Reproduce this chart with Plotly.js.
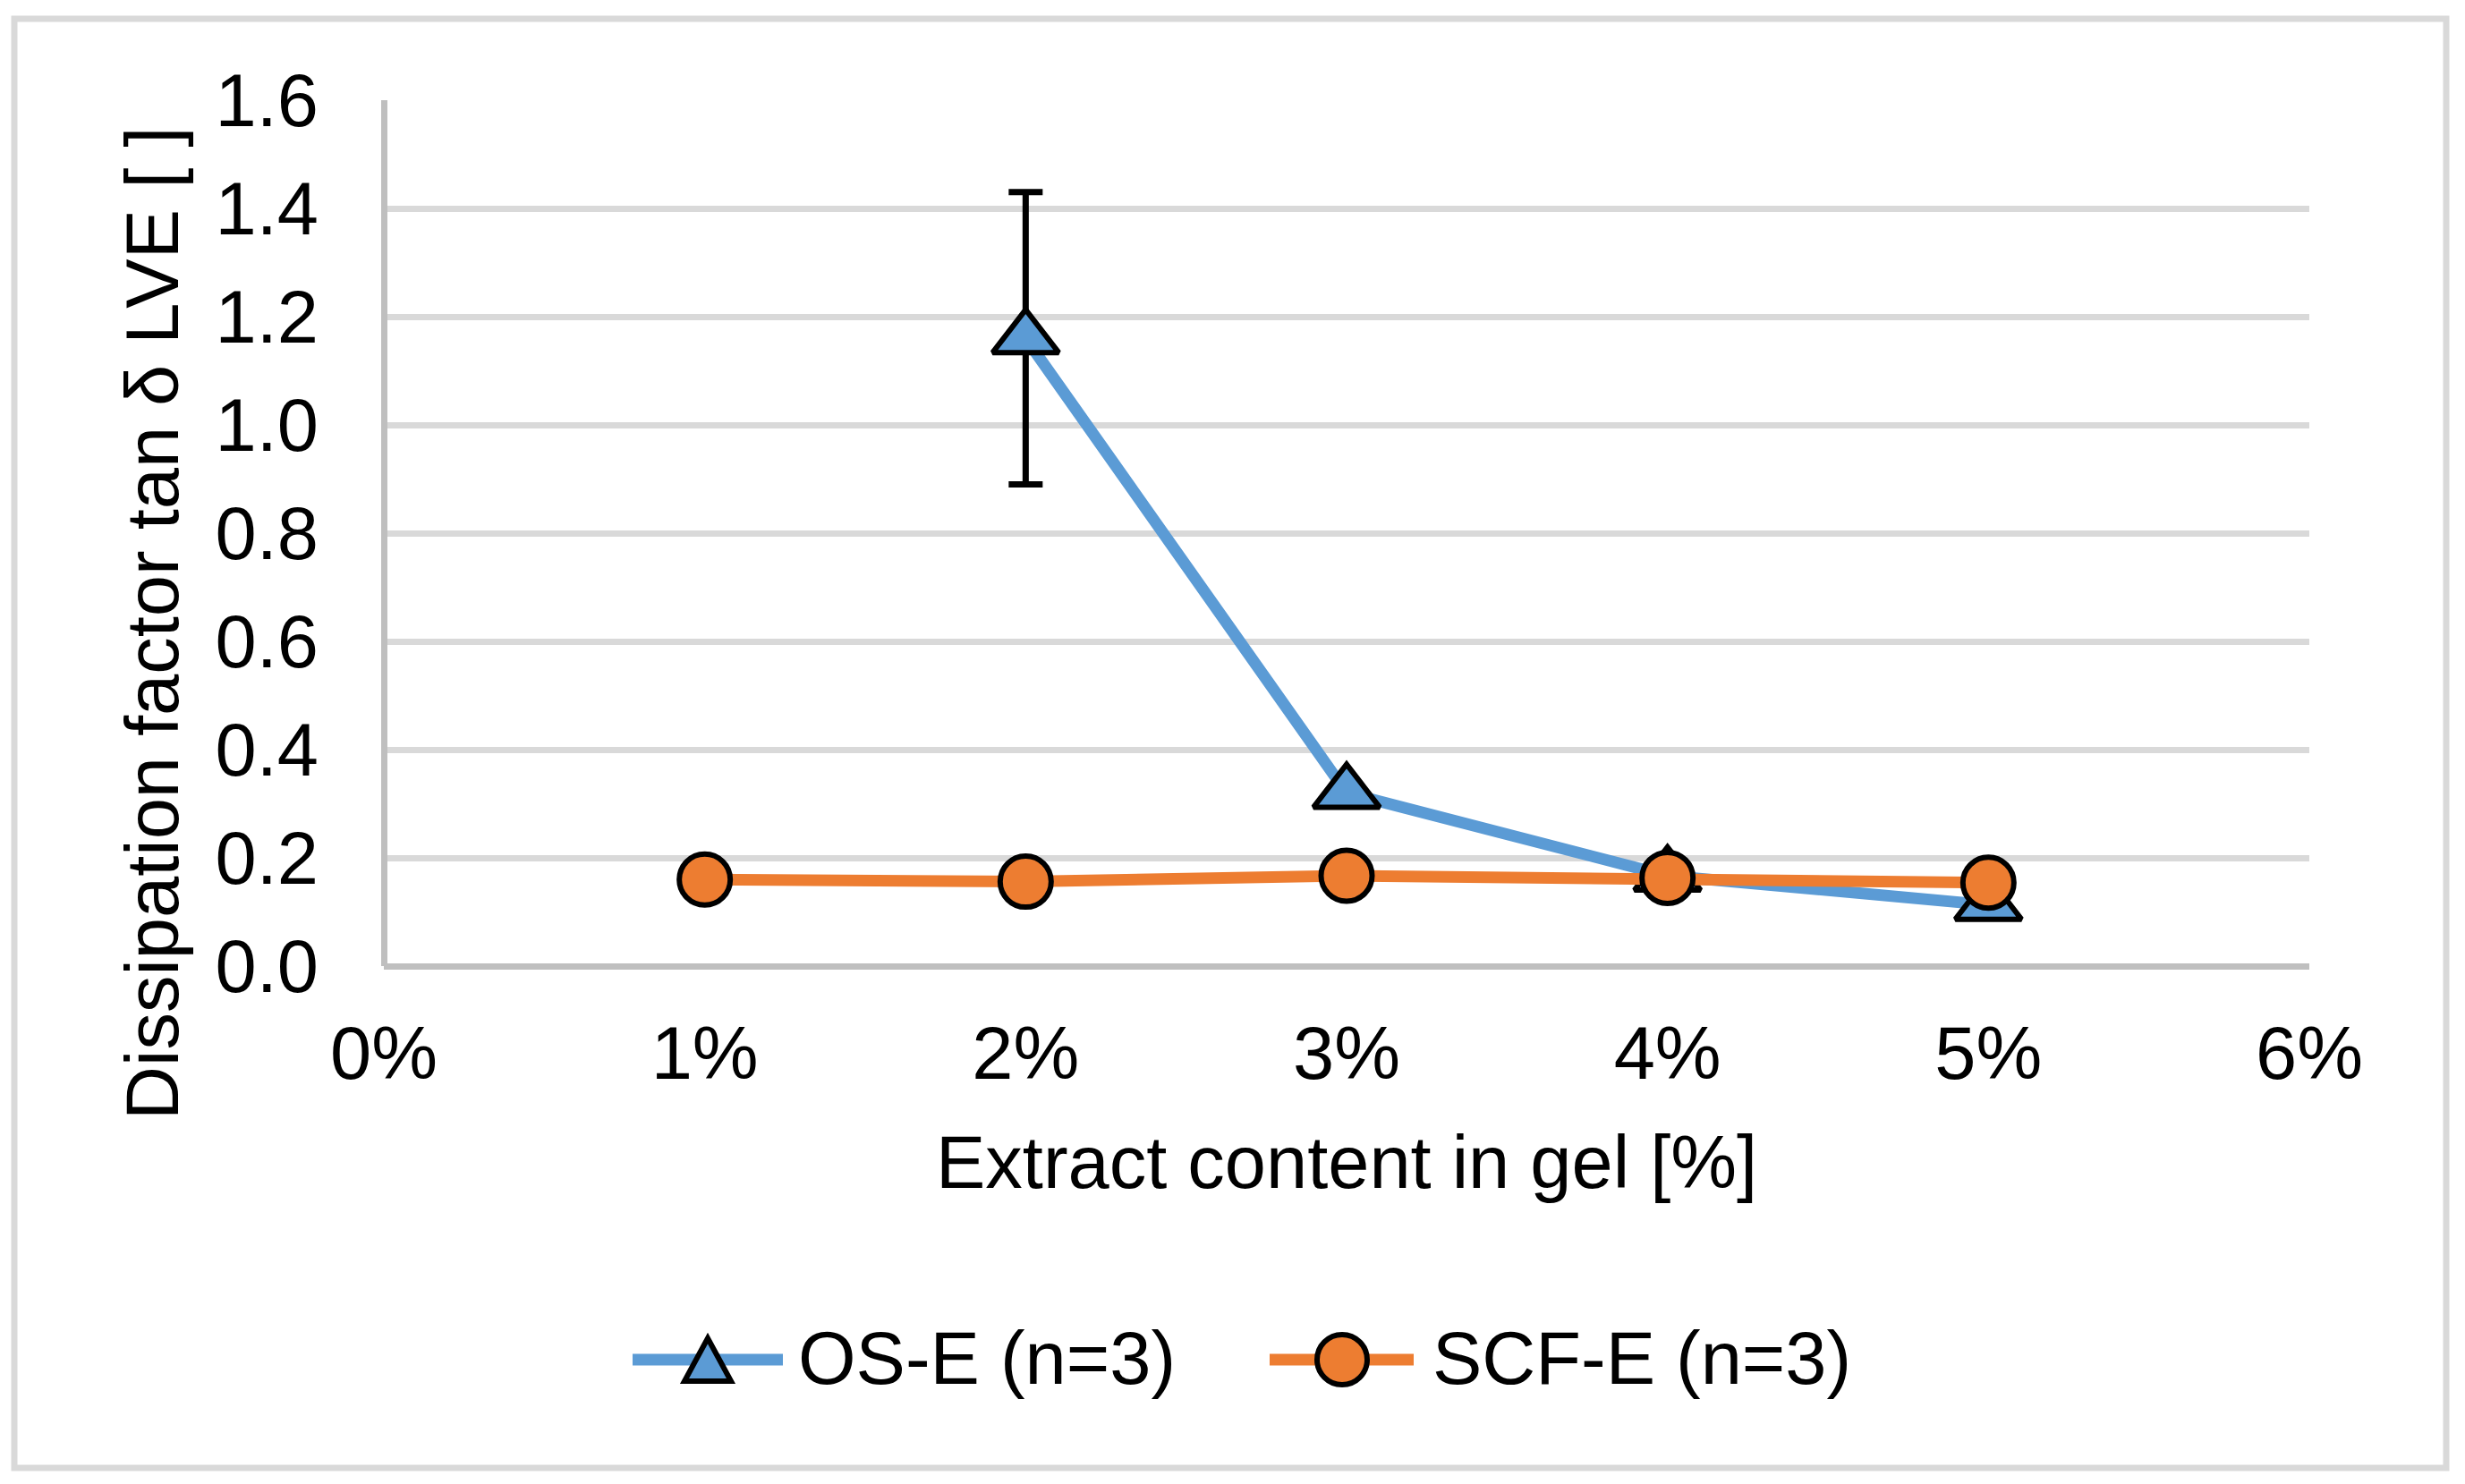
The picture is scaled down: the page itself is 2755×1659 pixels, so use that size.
<!DOCTYPE html>
<html>
<head>
<meta charset="utf-8">
<script src="https://cdn.plot.ly/plotly-3.0.1.min.js"></script>
<style>
  html, body { margin: 0; padding: 0; background: #ffffff; }
  #chart { width: 2755px; height: 1659px; }
</style>
</head>
<body>
<div id="chart"></div>
<script>
// values
const extractPct = [1, 2, 3, 4, 5];

const osPct = [2, 3, 4, 5];
const osTanDelta = [1.16, 0.32, 0.167, 0.113];
const osError = [0.27, 0, 0, 0];

const scfTanDelta = [0.160, 0.156, 0.167, 0.163, 0.154];

const seriesNames = ['OS-E (n=3)', 'SCF-E (n=3)'];
const xTitle = 'Extract content in gel [%]';
const yTitle = 'Dissipation factor tan δ LVE [ ]';

const BLUE = '#5B9BD5';
const ORANGE = '#ED7D31';
const FONT = 'Liberation Sans, Arial, sans-serif';

// plot area in page pixels
const W = 2755, H = 1659;
const L = 429, R = 2581, T = 112, B = 1080;
const px = x => (x - L) / (R - L);
const py = y => (B - y) / (B - T);

const traces = [
    {   // error bars sit under the markers, as in the original
        x: osPct,
        y: osTanDelta,
        mode: 'markers',
        marker: { size: 1, opacity: 0 },
        error_y: { type: 'data', array: osError, visible: true, color: '#000000', thickness: 7, width: 19 },
        hoverinfo: 'skip',
        cliponaxis: false
    },
    {
        x: osPct,
        y: osTanDelta,
        name: seriesNames[0],
        mode: 'lines+markers',
        line: { color: BLUE, width: 13 },
        marker: { symbol: 'triangle-up', size: 64, color: BLUE, line: { color: '#000000', width: 6 } },
        cliponaxis: false
    },
    {
        x: extractPct,
        y: scfTanDelta,
        name: seriesNames[1],
        mode: 'lines+markers',
        line: { color: ORANGE, width: 13 },
        marker: { symbol: 'circle', size: 57, color: ORANGE, line: { color: '#000000', width: 6 } },
        cliponaxis: false
    }
];

// hand-made legend (Plotly caps legend marker size)
const legendY = py(1520);
const shapes = [
    {   // outer chart border
        type: 'rect', xref: 'paper', yref: 'paper',
        x0: px(16), x1: px(2734), y0: py(1641), y1: py(21),
        line: { color: '#D9D9D9', width: 7 }, layer: 'below'
    },
    {
        type: 'line', xref: 'paper', yref: 'paper',
        x0: px(707), x1: px(875), y0: legendY, y1: legendY,
        line: { color: BLUE, width: 13 }
    },
    {
        type: 'path', xref: 'paper', yref: 'paper',
        xsizemode: 'pixel', ysizemode: 'pixel',
        xanchor: px(791), yanchor: legendY,
        path: 'M-26,-24 L26,-24 L0,24 Z',
        fillcolor: BLUE, line: { color: '#000000', width: 6 }
    },
    {
        type: 'line', xref: 'paper', yref: 'paper',
        x0: px(1419), x1: px(1580), y0: legendY, y1: legendY,
        line: { color: ORANGE, width: 13 }
    },
    {
        type: 'circle', xref: 'paper', yref: 'paper',
        xsizemode: 'pixel', ysizemode: 'pixel',
        xanchor: px(1500), yanchor: legendY,
        x0: -28, x1: 28, y0: -28, y1: 28,
        fillcolor: ORANGE, line: { color: '#000000', width: 6 }
    }
];

const annotations = [
    {
        text: yTitle, xref: 'paper', yref: 'paper',
        x: px(170), y: py(697), xanchor: 'center', yanchor: 'middle',
        textangle: -90, showarrow: false,
        font: { family: FONT, size: 83, color: '#000000' }
    },
    {
        text: xTitle, xref: 'paper', yref: 'paper',
        x: 0.5, y: py(1299), xanchor: 'center', yanchor: 'middle',
        showarrow: false,
        font: { family: FONT, size: 83, color: '#000000' }
    },
    {
        text: seriesNames[0], xref: 'paper', yref: 'paper',
        x: px(890), y: py(1518), xanchor: 'left', yanchor: 'middle',
        showarrow: false,
        font: { family: FONT, size: 83, color: '#000000' }
    },
    {
        text: seriesNames[1], xref: 'paper', yref: 'paper',
        x: px(1599), y: py(1518), xanchor: 'left', yanchor: 'middle',
        showarrow: false,
        font: { family: FONT, size: 83, color: '#000000' }
    }
];

const layout = {
    width: W,
    height: H,
    margin: { l: L, r: W - R, t: T, b: H - B, pad: 0 },
    paper_bgcolor: '#ffffff',
    plot_bgcolor: '#ffffff',
    font: { family: FONT, size: 83, color: '#000000' },
    showlegend: false,
    xaxis: {
        range: [0, 6],
        dtick: 1,
        ticksuffix: '%',
        showgrid: false,
        zeroline: true,
        zerolinecolor: '#BFBFBF',
        zerolinewidth: 7,
        showline: false,
        ticks: '',
        ticklabelstandoff: 42,
        tickfont: { family: FONT, size: 83, color: '#000000' },
        fixedrange: true
    },
    yaxis: {
        range: [0, 1.6],
        dtick: 0.2,
        tickformat: '.1f',
        showgrid: true,
        gridcolor: '#D9D9D9',
        gridwidth: 7,
        zeroline: true,
        zerolinecolor: '#BFBFBF',
        zerolinewidth: 7,
        showline: false,
        ticks: '',
        ticklabelstandoff: 72,
        tickfont: { family: FONT, size: 83, color: '#000000' },
        fixedrange: true
    },
    shapes: shapes,
    annotations: annotations
};

Plotly.newPlot('chart', traces, layout, { displayModeBar: false, responsive: false });
</script>
</body>
</html>
